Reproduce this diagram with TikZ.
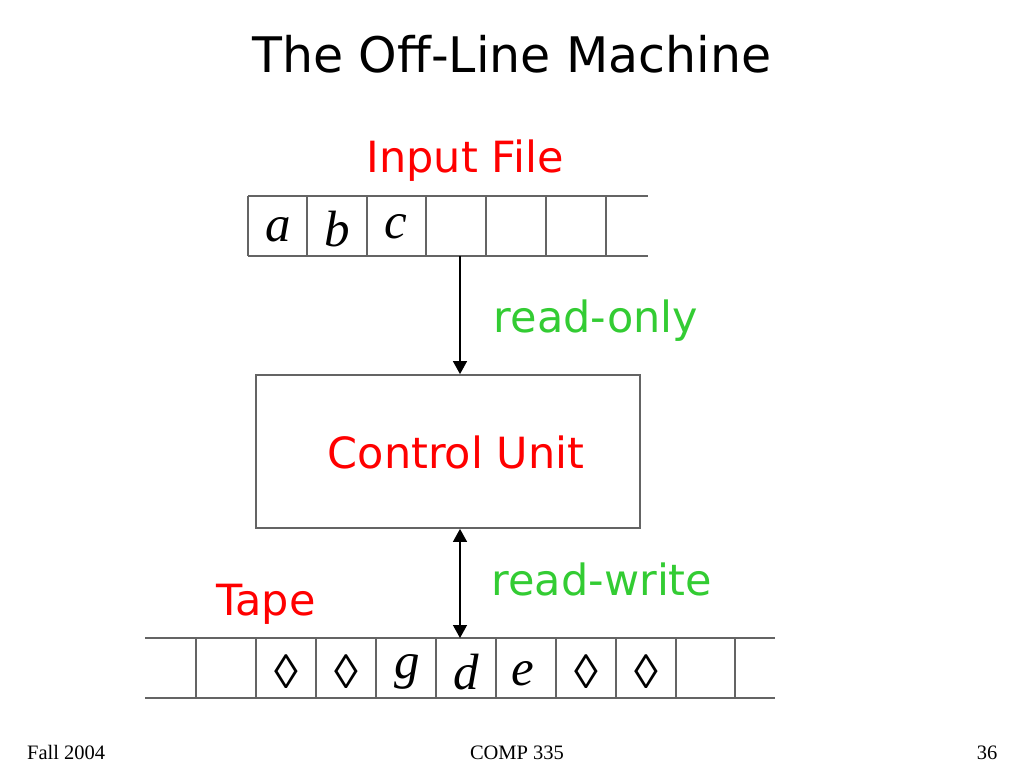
\documentclass[tikz,border=0pt]{standalone}
\usepackage{fontspec}
\setmainfont{Liberation Serif}
\newfontfamily\cfont{DejaVu Sans}
\usetikzlibrary{arrows.meta}
\definecolor{tred}{RGB}{255,0,0}
\definecolor{tgreen}{RGB}{51,204,51}
\definecolor{tgrey}{RGB}{100,100,100}
\begin{document}
\begin{tikzpicture}[x=1pt,y=-1pt,
  tapeline/.style={draw=tgrey, line width=1.5pt},
  sym/.style={font=\fontsize{51}{52}\selectfont\itshape, anchor=base, inner sep=0pt},
  loz/.style={font=\fontsize{48}{50}\selectfont, anchor=base, inner sep=0pt},
  lbl/.style={font=\cfont\fontsize{43}{50}\selectfont, anchor=base, inner sep=0pt},
  foot/.style={font=\fontsize{20.5}{22}\selectfont, anchor=base, inner sep=0pt},
  conn/.style={line width=1.3pt, -{Triangle[length=13pt,width=14pt]}},
  conn2/.style={line width=1.3pt, {Triangle[length=13pt,width=14pt]}-{Triangle[length=13pt,width=14pt]}}
]
\useasboundingbox[fill=white] (0,0) rectangle (1024,768);
% title
\node[lbl, font=\cfont\fontsize{49}{55}\selectfont] (title) at (512,72) {The Off-Line Machine};
% input file
\node[lbl, text=tred] (inlbl) at (465,172) {Input File};
\draw[tapeline] (248,196) -- (648,196) (248,256) -- (648,256);
\foreach \x in {248,307,367,426,486,546,606} \draw[tapeline] (\x,196) -- (\x,256);
\node[sym] (ca) at (278,241) {a};
\node[sym] (cb) at (337,246) {b};
\node[sym] (cc) at (396,238) {c};
\coordinate (it) at (460,256);
% control unit
\node[draw=tgrey, line width=1.8pt, minimum width=384pt, minimum height=153pt, inner sep=0pt] (cu) at (448,451.5) {};
\node[lbl, text=tred] (cul) at (456,468) {Control Unit};
\draw[conn] (it) -- (it |- cu.north);
\node[lbl, text=tgreen] (ro) at (596,332) {read-only};
% tape
\draw[tapeline] (145,638) -- (775,638) (145,698) -- (775,698);
\foreach \x in {196,256,316,376,436,496,556,616,676,735} \draw[tapeline] (\x,638) -- (\x,698);
\coordinate (tt) at (460,638);
\draw[conn2] (it |- cu.south) -- (tt);
\node[lbl, text=tgreen] (rw) at (602,595) {read-write};
\node[lbl, text=tred] (tp) at (266,615) {Tape};
\node[loz] (l1) at (286,688) {◊};
\node[loz] (l2) at (346,688) {◊};
\node[sym] (cg) at (407,678) {g};
\node[sym] (cd) at (466,689) {d};
\node[sym] (ce) at (523,685) {e};
\node[loz] (l3) at (586,688) {◊};
\node[loz] (l4) at (646,688) {◊};
% footer
\node[foot, anchor=base west] (f1) at (27,759) {Fall 2004};
\node[foot] (f2) at (517,759) {COMP 335};
\node[foot] (f3) at (987,759) {36};
\end{tikzpicture}
\end{document}
